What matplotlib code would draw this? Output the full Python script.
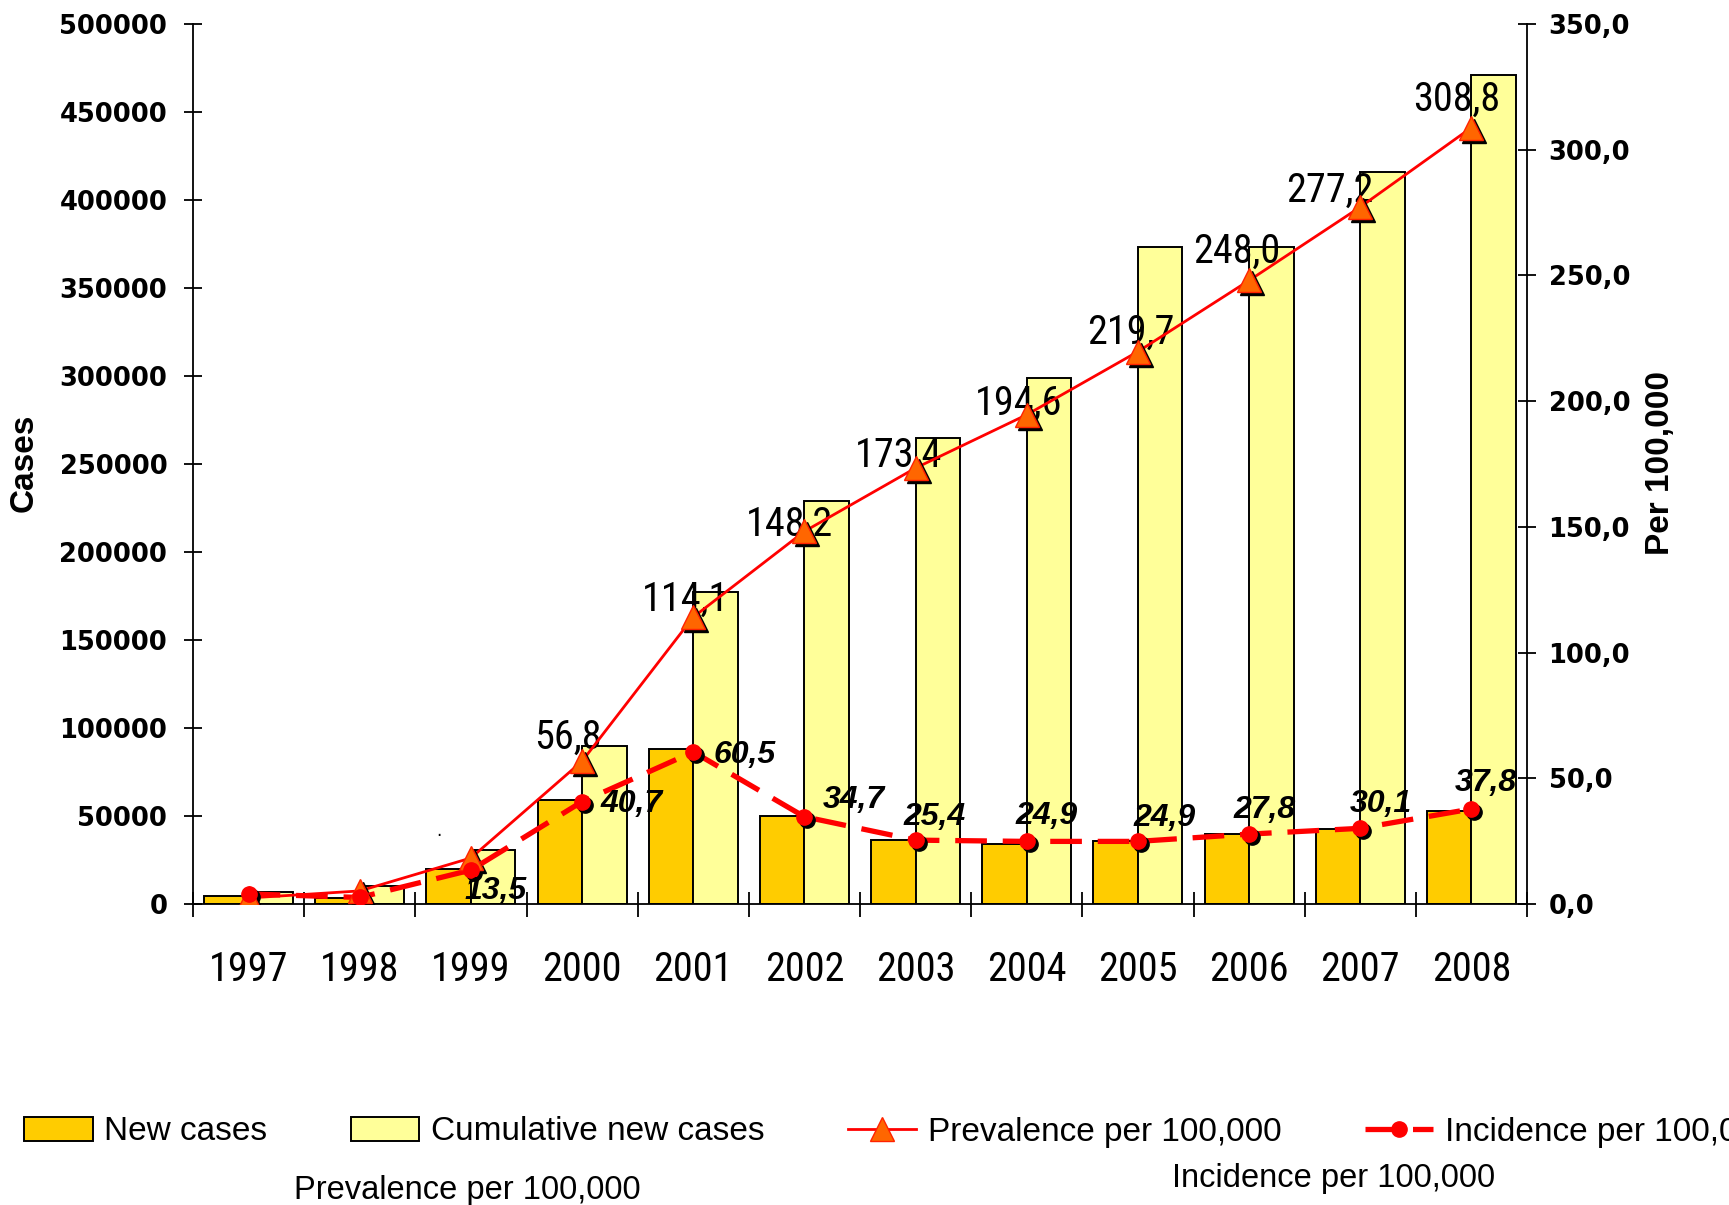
import matplotlib
matplotlib.use("Agg")
import matplotlib.pyplot as plt
import matplotlib.transforms as mtransforms
from matplotlib.patches import Patch
from matplotlib.lines import Line2D
import numpy as np

years = ["1997", "1998", "1999", "2000", "2001", "2002", "2003", "2004", "2005", "2006", "2007", "2008"]
new_cases = [4500, 3500, 20000, 59000, 88000, 50000, 36400, 34000, 35800, 40000, 42600, 52800]
cumulative = [7000, 10400, 30700, 89500, 177000, 228700, 265000, 298900, 373200, 373200, 415800, 470900]
prevalence = [2.4, 5.2, 18.3, 56.8, 114.1, 148.2, 173.4, 194.6, 219.7, 248.0, 277.2, 308.8]
incidence = [4.0, 2.6, 13.5, 40.7, 60.5, 34.7, 25.4, 24.9, 24.9, 27.8, 30.1, 37.8]
prev_labels = [None, None, None, "56,8", "114,1", "148,2", "173,4", "194,6", "219,7", "248,0", "277,2", "308,8"]
inc_labels = [None, None, "13,5", "40,7", "60,5", "34,7", "25,4", "24,9", "24,9", "27,8", "30,1", "37,8"]

# where the value labels sit relative to their marker (pixels, y up)
prev_off = [None, None, None, (-14, 24), (-8, 18), (-15, 7), (-17, 13), (-8, 11), (-7, 19), (-12, 29), (-30, 17), (-15, 28)]
inc_off = [None, None, (25, -21), (50, -2), (51, -3), (49, 17), (19, 23), (20, 25), (27, 23), (15, 24), (21, 24), (14, 26)]

narrow = ["Liberation Sans Narrow", "Roboto Condensed", "Open Sans Condensed", "DejaVu Sans"]
arial = ["Liberation Sans", "DejaVu Sans"]

fig = plt.figure(figsize=(17.29, 12.05), dpi=100)
ax = fig.add_axes([193/1729, 1 - 904/1205, (1527-193)/1729, (904-24)/1205])
ax2 = ax.twinx()

x = np.arange(len(years))
w = 0.4
ax.bar(x - w/2, new_cases, w, color="#FFCC00", edgecolor="black", linewidth=1.4, zorder=2)
ax.bar(x + w/2, cumulative, w, color="#FFFF99", edgecolor="black", linewidth=1.4, zorder=2)

ax.set_xlim(-0.5, 11.5)
ax.set_ylim(0, 500000)
ax.set_yticks(np.arange(0, 500001, 50000))
ax.set_yticklabels([str(v) for v in range(0, 500001, 50000)])
ax.set_xticks(x)
ax.set_xticklabels(years, family=narrow, stretch="condensed", fontsize=29)
ax.set_xticks(np.arange(-0.5, 12, 1), minor=True)
ax.tick_params(axis="x", which="major", length=0, pad=33)
ax.tick_params(axis="x", which="minor", direction="inout", length=18, width=1.3)
ax.tick_params(axis="y", direction="inout", length=13, width=1.3, pad=12)
for lab in ax.get_yticklabels():
    lab.set_family("DejaVu Sans")
    lab.set_fontweight("bold")
    lab.set_fontsize(18.5)
for s in ["top", "right"]:
    ax.spines[s].set_visible(False)
for s in ["left", "bottom"]:
    ax.spines[s].set_linewidth(1.3)

ax2.set_ylim(0, 350)
ax2.set_yticks(np.arange(0, 351, 50))
ax2.set_yticklabels([f"{v},0" for v in range(0, 351, 50)])
ax2.tick_params(axis="y", direction="inout", length=13, width=1.3, pad=9)
for lab in ax2.get_yticklabels():
    lab.set_family("DejaVu Sans")
    lab.set_fontweight("bold")
    lab.set_fontsize(18.5)
for s in ["top", "left", "bottom"]:
    ax2.spines[s].set_visible(False)
ax2.spines["right"].set_linewidth(1.3)

# black drop shadow under the markers
shadow = mtransforms.offset_copy(ax2.transData, fig=fig, x=3, y=-3, units="dots")

ax2.plot(x, prevalence, color="red", lw=2, zorder=3)
ax2.plot(x, prevalence, ls="none", marker="^", ms=17, color="black", transform=shadow, zorder=3)
ax2.plot(x, prevalence, ls="none", marker="^", ms=17, markerfacecolor="#FF6600",
         markeredgecolor="#FF2200", markeredgewidth=1, zorder=4)

ax2.plot(x, incidence, color="red", lw=3.8, ls=(0, (6, 3)), zorder=3)
ax2.plot(x, incidence, ls="none", marker="o", ms=11, color="black", transform=shadow, zorder=3)
ax2.plot(x, incidence, ls="none", marker="o", ms=11, color="red", zorder=4)

for i in range(len(years)):
    if prev_labels[i]:
        ax2.annotate(prev_labels[i], (x[i], prevalence[i]), xytext=prev_off[i],
                     textcoords="offset pixels", ha="center", va="center",
                     family=narrow, stretch="condensed", fontsize=29, zorder=2)
    if inc_labels[i]:
        ax2.annotate(inc_labels[i], (x[i], incidence[i]), xytext=inc_off[i],
                     textcoords="offset pixels", ha="center", va="center",
                     family=arial, fontsize=23, fontweight="bold", fontstyle="italic", zorder=5)

ax2.text(1.71, 29, ".", fontsize=12, ha="center", va="center")

fig.text(24/1729, 1 - 463/1205, "Cases", rotation=90, ha="center", va="center",
         family=arial, fontweight="bold", fontsize=24)
fig.text(1660/1729, 1 - 463/1205, "Per 100,000", rotation=90, ha="center", va="center",
         family=arial, fontweight="bold", fontsize=24)

handles = [
    Patch(facecolor="#FFCC00", edgecolor="black", linewidth=1.4),
    Patch(facecolor="#FFFF99", edgecolor="black", linewidth=1.4),
    Line2D([], [], color="red", lw=2, marker="^", ms=17, markerfacecolor="#FF6600", markeredgecolor="#FF2200"),
    Line2D([], [], color="red", lw=3.8, ls=(0, (6, 3)), marker="o", ms=11),
]
labels = ["New cases", "Cumulative new cases", "Prevalence per 100,000", "Incidence per 100,000"]
fig.legend(handles, labels, loc="center left", bbox_to_anchor=(0.014, 1 - 1132/1205),
           ncol=4, frameon=False, borderpad=0, borderaxespad=0, handlelength=2.05,
           handletextpad=0.35, columnspacing=2.5, prop={"family": arial, "size": 24})

fig.text(467/1729, 1 - 1191/1205, "Prevalence per 100,000", ha="center", va="center",
         family=arial, fontsize=23.5)
fig.text(1334/1729, 1 - 1179/1205, "Incidence per 100,000", ha="center", va="center",
         family=arial, fontsize=23.5)

fig.savefig("out.png", dpi=100)
